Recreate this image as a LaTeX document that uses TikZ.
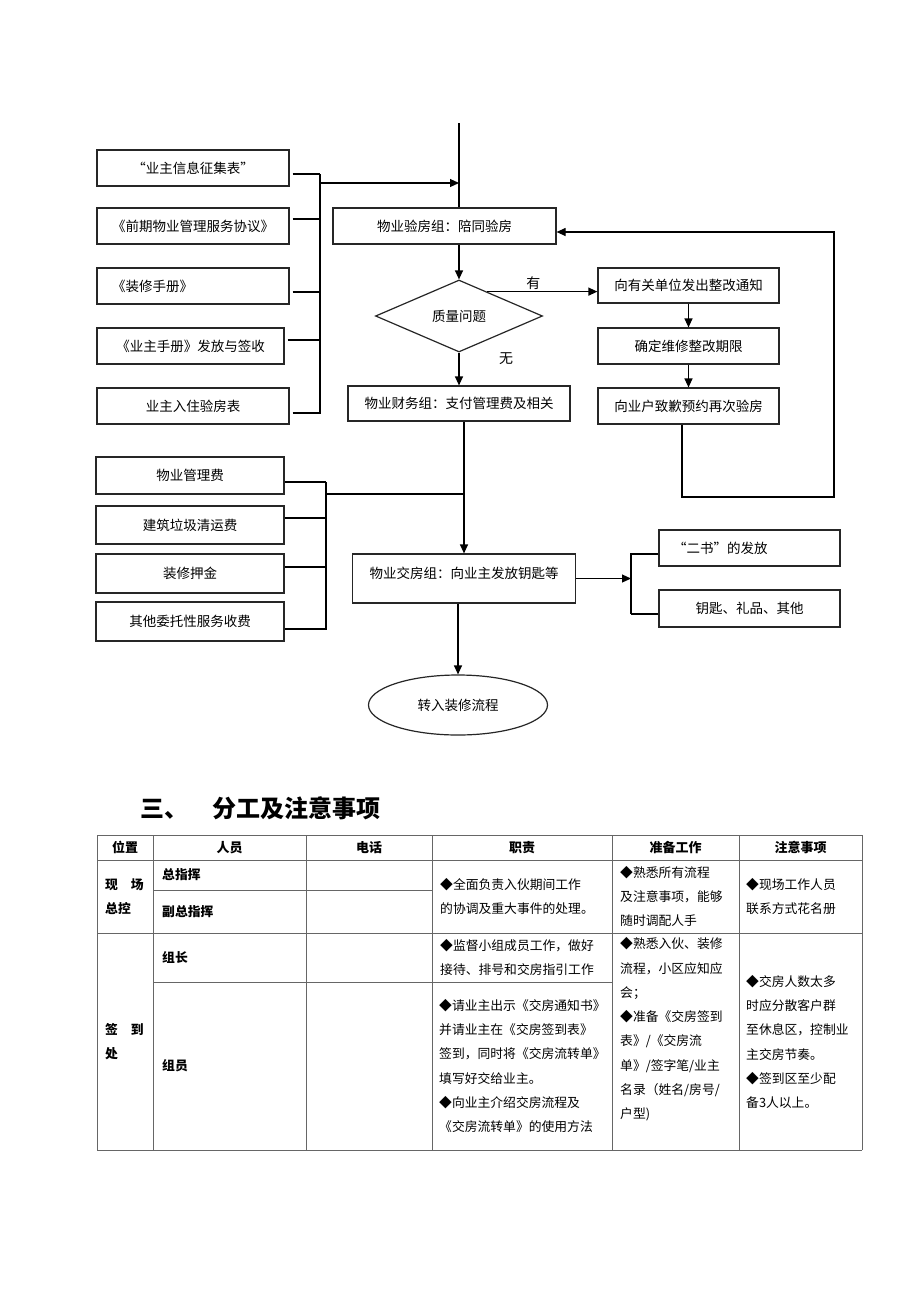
\documentclass[tikz,border=0pt]{standalone}
\usepackage{fontspec}
\newfontfamily\cjk{Noto Sans CJK SC}
\usetikzlibrary{arrows.meta,shapes.geometric}

\begin{document}
\begin{tikzpicture}[x=1pt,y=-1pt,
  box/.style={draw=black!85,line width=1.2pt,minimum height=36pt,inner sep=2pt,
              font=\cjk\fontsize{13.5pt}{16pt}\selectfont},
  dia/.style={box,diamond,aspect=2.3,minimum width=167pt,minimum height=72pt,inner sep=0pt},
  line/.style={draw=black,line width=1.2pt},
  arrow/.style={line,-{Triangle[length=9pt,width=8pt]}},
  lbl/.style={font=\cjk\fontsize{14pt}{16pt}\selectfont,inner sep=0pt},
  grid/.style={draw=black!60,line width=1pt},
  head/.style={font=\cjk\bfseries\fontsize{13pt}{16pt}\selectfont,inner sep=0pt},
  cell/.style={anchor=west,align=left,inner sep=0pt,font=\cjk\fontsize{12.8pt}{24.3pt}\selectfont},
  boldcell/.style={cell,font=\cjk\bfseries\fontsize{12.8pt}{24.3pt}\selectfont},
]
\fill[white] (0,0) rectangle (920,1302);
\useasboundingbox (0,0) rectangle (920,1302);

\node[box,minimum width=192pt] (info1) at (193,168) {“业主信息征集表”};
\node[box,minimum width=192pt] (info2) at (193,226) {《前期物业管理服务协议》};
\node[box,minimum width=192pt,text width=162pt,inner xsep=15pt,align=left] (info3) at (193,286) {《装修手册》};
\node[box,minimum width=187pt] (info4) at (190.5,346) {《业主手册》发放与签收};
\node[box,minimum width=192pt] (info5) at (193,406) {业主入住验房表};

\node[box,minimum width=223pt] (check) at (444.5,226) {物业验房组：陪同验房};
\node[dia] (qa) at (459,316) {质量问题};
\node[box,minimum width=181pt,minimum height=35pt] (fix1) at (688.5,285.5) {向有关单位发出整改通知};
\node[box,minimum width=181pt] (fix2) at (688.5,346) {确定维修整改期限};
\node[box,minimum width=181pt] (fix3) at (688.5,406) {向业户致歉预约再次验房};
\node[box,minimum width=222pt,minimum height=35pt] (fin) at (459,403.5) {物业财务组：支付管理费及相关};

\node[box,minimum width=188pt,minimum height=37pt] (fee1) at (190,475.5) {物业管理费};
\node[box,minimum width=188pt,minimum height=38pt] (fee2) at (190,525) {建筑垃圾清运费};
\node[box,minimum width=188pt,minimum height=39pt] (fee3) at (190,573.5) {装修押金};
\node[box,minimum width=188pt,minimum height=39pt] (fee4) at (190,621.5) {其他委托性服务收费};

\node[box,minimum width=223pt,minimum height=49pt,text depth=11pt] (hand) at (464,578.5) {物业交房组：向业主发放钥匙等};
\node[box,ellipse,minimum width=179pt,minimum height=60pt] (end) at (458,705) {转入装修流程};
\node[box,minimum width=181pt,text width=153pt,inner xsep=14pt,align=left] (give1) at (749.5,548) {“二书”的发放};
\node[box,minimum width=181pt,minimum height=37pt] (give2) at (749.5,608.5) {钥匙、礼品、其他};

\coordinate (top) at (459,123);
\coordinate (brA) at (320,174);
\coordinate (brAout) at (320,183);
\coordinate (loopR) at (834,497);
\coordinate (brB) at (326,482);
\coordinate (brBout) at (326,494);
\coordinate (brC) at (631,614);

\draw[line] (top) -- (top |- check.north);
\foreach \n/\s in {info1/-6,info2/7,info3/-6,info4/6,info5/-7}
  \draw[line] ([xshift=3pt,yshift=\s pt]\n.east) -| (brA);
\draw[arrow] (brAout) -- (brAout -| top);
\draw[arrow] (check.south -| top) -- (qa.north);
\draw[arrow] (qa.41) -- (qa.41 -| fix1.west) node[lbl,pos=0.42,above=1pt] (yes) {有};
\draw[arrow] (fix1) -- (fix2);
\draw[arrow] (fix2) -- (fix3);
\draw[arrow] ([xshift=-6.5pt]fix3.south) |- (loopR) |- ([yshift=-6pt]check.east);
\draw[arrow] (qa.south) -- (fin.north) node[lbl,pos=0.18,xshift=47pt] (no) {无};

\foreach \n/\s in {fee1/-6.5,fee2/7,fee3/6.5,fee4/-7.5}
  \draw[line] ([yshift=\s pt]\n.east) -| (brB);
\draw[line] (brBout) -- (brBout -| hand.north);
\draw[arrow] ([xshift=5pt]fin.south) -- (hand.north);
\draw[arrow] ([xshift=-6pt]hand.south) -- (end.north);
\draw[arrow] (hand.east) -- (hand.east -| brC);
\foreach \n/\s in {give1/-6,give2/-5.5}
  \draw[line] ([yshift=\s pt]\n.west) -| (brC);

\node[anchor=west,inner sep=0pt,font=\cjk\bfseries\fontsize{24pt}{28pt}\selectfont] (sec) at (140,808) {三、\hspace{24pt}分工及注意事项};

\foreach \y in {835,860,933,1150}
  \draw[grid] (97,\y) -- (862,\y);
\draw[grid] (153,890) -- (432,890);
\draw[grid] (153,982) -- (612,982);
\foreach \x in {97,153,306,432,612,739,862}
  \draw[grid] (\x,835) -- (\x,1150);

\foreach \x/\t [count=\i] in {125/位置,229.5/人员,369/电话,522/职责,675.5/准备工作,800.5/注意事项}
  \node[head] (head\i) at (\x,847.5) {\t};

\node[boldcell] (posA) at (105,896.5) {现\hspace{13pt}场\\总控};
\node[boldcell] (roleA) at (162,875) {总指挥};
\node[boldcell] (roleB) at (162,911.5) {副总指挥};
\node[cell] (dutyA) at (440,896.5) {◆全面负责入伙期间工作\\的协调及重大事件的处理。};
\node[cell] (prepA) at (620,896.5) {◆熟悉所有流程\\及注意事项，能够\\随时调配人手};
\node[cell] (noteA) at (746,896.5) {◆现场工作人员\\联系方式花名册};

\node[boldcell] (posB) at (105,1041.5) {签\hspace{13pt}到\\处};
\node[boldcell] (roleC) at (162,957.5) {组长};
\node[boldcell] (roleD) at (162,1066) {组员};
\node[cell] (dutyC) at (440,957.5) {◆监督小组成员工作，做好\\接待、排号和交房指引工作};
\node[cell] (dutyD) at (439,1066) {◆请业主出示《交房通知书》\\并请业主在《交房签到表》\\签到，同时将《交房流转单》\\填写好交给业主。\\◆向业主介绍交房流程及\\《交房流转单》的使用方法};
\node[cell] (prepC) at (620,1029.5) {◆熟悉入伙、装修\\流程，小区应知应\\会；\\◆准备《交房签到\\表》/《交房流\\单》/签字笔/业主\\名录（姓名/房号/\\户型)};
\node[cell] (noteC) at (746,1042) {◆交房人数太多\\时应分散客户群\\至休息区，控制业\\主交房节奏。\\◆签到区至少配\\备3人以上。};
\end{tikzpicture}
\end{document}
